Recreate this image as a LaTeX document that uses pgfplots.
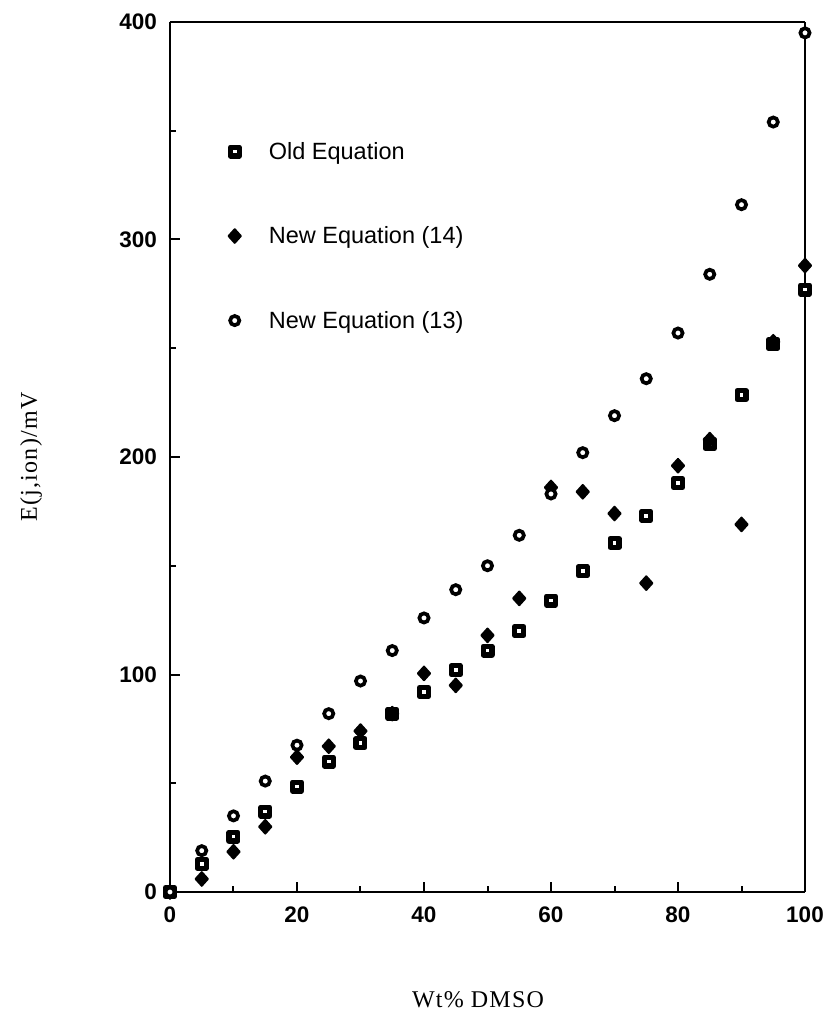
\documentclass[border=0pt]{standalone}
\usepackage{pgfplots}
\pgfplotsset{compat=1.18}
\usepackage{fontspec}
\setmainfont{Liberation Serif}
\newfontfamily\helv{Liberation Sans}
\newfontfamily\spaced[LetterSpace=5]{Liberation Serif}

\begin{document}
\begin{tikzpicture}
\begin{axis}[
  scale only axis, width=635pt, height=870pt,
  xmin=0, xmax=100, ymin=0, ymax=400,
  clip=false,
  separate axis lines,
  axis line style={line width=2.8pt},
  xtick={0,20,...,100}, ytick={0,100,...,400},
  minor x tick num=1, minor y tick num=1,
  tick align=inside, tick pos=left,
  major tick length=10pt, minor tick length=6pt,
  every tick/.style={black, line width=2pt},
  /pgf/number format/assume math mode=true,
  tick label style={font=\fontsize{22.5}{24}\selectfont\helv\bfseries, inner sep=0pt},
  xticklabel style={yshift=-15pt},
  yticklabel style={xshift=-13pt},
  xlabel={Wt\% DMSO},
  ylabel={E(j,ion)/mV},
  xlabel style={font=\spaced\fontsize{24}{26}\selectfont,
    at={(rel axis cs:0.485,0)}, anchor=center, yshift=-108pt},
  ylabel style={font=\spaced\fontsize{24}{26}\selectfont,
    at={([xshift=-139pt]rel axis cs:0,0.5)}, anchor=center},
  legend style={draw=none, fill=none, at={(rel axis cs:0.092,0.862)}, anchor=north west,
    font=\fontsize{23.5}{26}\selectfont\helv, row sep=66pt, inner sep=0pt,
    nodes={inner sep=0pt}},
  legend cell align=left,
  legend image code/.code={\draw[#1] plot coordinates {(0pt,0pt)};},
  /tikz/every odd column/.append style={column sep=28pt},
]
% Old equation
\addplot[only marks, mark=square*, mark size=4.4pt,
  mark options={draw=black, fill=white, line width=5.2pt, line join=round}]
  coordinates {
  (0,0) (5,13) (10,25.5) (15,37) (20,48.5) (25,60) (30,68.5) (35,82) (40,92)
  (45,102) (50,111) (55,120) (60,134) (65,147.5) (70,160.5) (75,173) (80,188)
  (85,206) (90,228.5) (95,252) (100,277)};
\addlegendentry{Old Equation}
% New equation (14)
\addplot[only marks, mark=diamond*, mark size=6.8pt,
  mark options={draw=black, fill=black, line width=2pt, line join=round, xscale=1.2}]
  coordinates {
  (0,0) (5,6) (10,18.5) (15,30) (20,62) (25,67) (30,74) (35,82) (40,100.5)
  (45,95) (50,118) (55,135) (60,186) (65,184) (70,174) (75,142) (80,196)
  (85,208) (90,169) (95,253) (100,288)};
\addlegendentry{New Equation (14)}
% New equation (13)
\addplot[only marks, mark=*, mark size=4.6pt,
  mark options={draw=black, fill=white, line width=3.7pt}]
  coordinates {
  (0,0) (5,19) (10,35) (15,51) (20,67.5) (25,82) (30,97) (35,111) (40,126)
  (45,139) (50,150) (55,164) (60,183) (65,202) (70,219) (75,236) (80,257)
  (85,284) (90,316) (95,354) (100,395)};
\addlegendentry{New Equation (13)}
\coordinate (o) at (rel axis cs:0,0);
\end{axis}
\pgfresetboundingbox
\path (o) ++(-170pt,-123pt) rectangle ++(827pt,1015pt);
\end{tikzpicture}
\end{document}
